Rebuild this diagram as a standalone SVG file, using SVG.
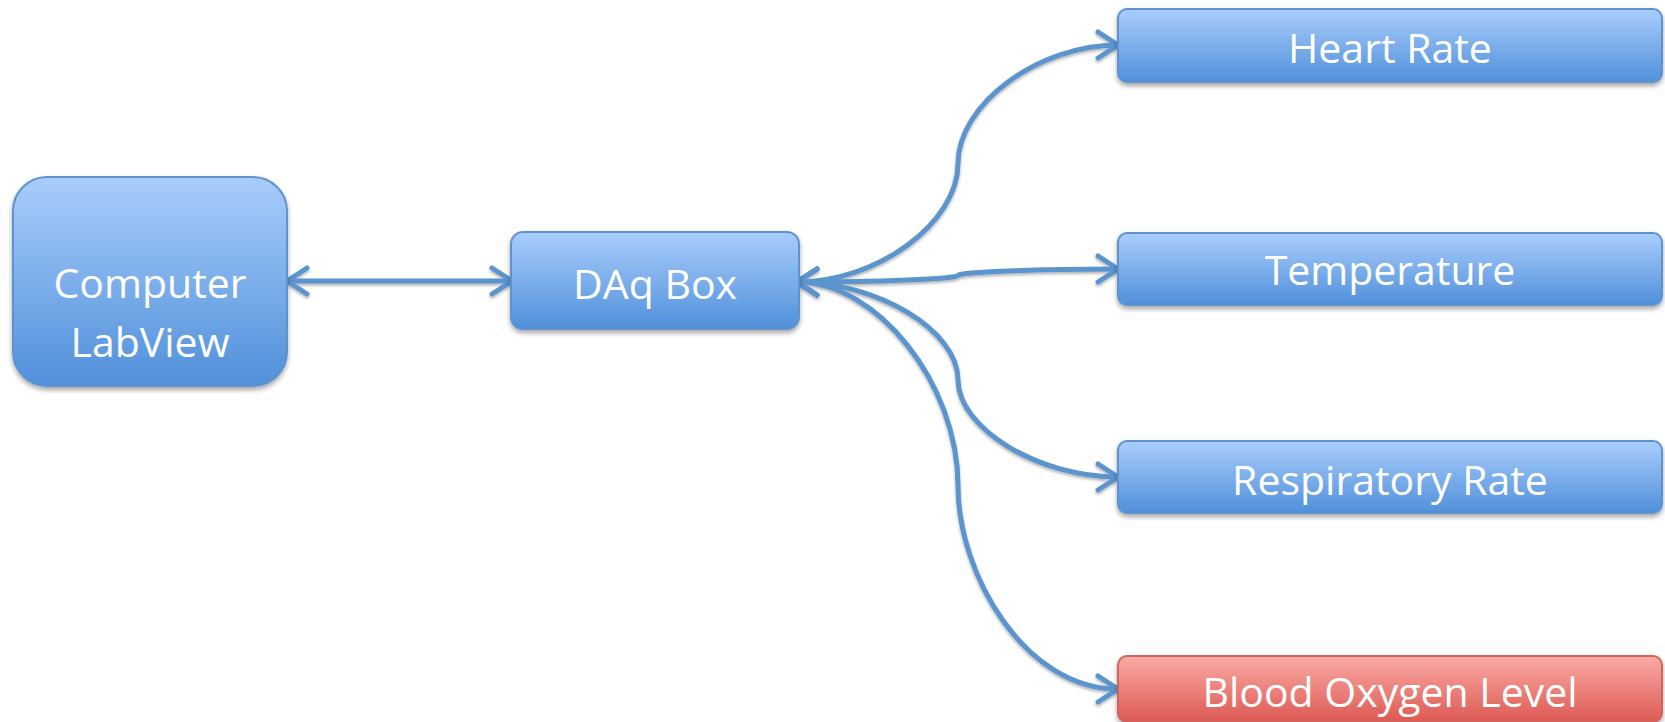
<svg xmlns="http://www.w3.org/2000/svg" width="1665" height="722" viewBox="0 0 1665 722">
<style>
.box{stroke:#5f93cf;stroke-width:2;filter:url(#sh)}
.blue{fill:url(#gb)}
.red{fill:url(#gr);stroke:#d0655e}
.lbl{font-family:"Open Sans","Liberation Sans",sans-serif;font-size:41px;fill:#ffffff;text-anchor:middle}
.con{fill:none;stroke:#5b94cd;stroke-width:5;stroke-linecap:round;marker-start:url(#ah);marker-end:url(#ah)}
</style>
<defs>
<linearGradient id="gb" x1="0" y1="0" x2="0" y2="1">
<stop offset="0" stop-color="#a9cdfc"/>
<stop offset="1" stop-color="#5090da"/>
</linearGradient>
<linearGradient id="gr" x1="0" y1="0" x2="0" y2="1">
<stop offset="0" stop-color="#fbaaa5"/>
<stop offset="1" stop-color="#dc5a53"/>
</linearGradient>
<filter id="sh" x="-10%" y="-20%" width="120%" height="150%">
<feDropShadow dx="0" dy="3" stdDeviation="2.5" flood-color="#000" flood-opacity="0.35"/>
</filter>
<filter id="lsh" filterUnits="userSpaceOnUse" x="0" y="0" width="1665" height="722">
<feDropShadow dx="0" dy="2" stdDeviation="1.5" flood-color="#000" flood-opacity="0.3"/>
</filter>
<marker id="ah" markerUnits="userSpaceOnUse" markerWidth="30" markerHeight="34" refX="24" refY="16" orient="auto-start-reverse" viewBox="0 0 30 34">
<path d="M4 3 L24 16 L4 29" fill="none" stroke="#5b94cd" stroke-width="5" stroke-linecap="round" stroke-linejoin="round"/>
</marker>
</defs>
<g id="connectors" filter="url(#lsh)">
<path class="con" d="M287 281 L512 281"/>
<path class="con" d="M797 282 C877.5 282 958 222.75 958 163.5 C958 104.25 1038 45 1118 45"/>
<path class="con" d="M797 282 C877.5 282 958 278.75 958 275.5 C958 272.25 1038 269 1118 269"/>
<path class="con" d="M797 282 C877.5 282 958 330.75 958 379.5 C958 428.25 1038 477 1118 477"/>
<path class="con" d="M797 282 C877.5 282 958 383.75 958 485.5 C958 575 1025 689 1118 689"/>
</g>
<g id="computer">
<rect class="box blue" x="13" y="177" width="274" height="209" rx="34"/>
<text class="lbl" x="150" y="298">Computer</text>
<text class="lbl" x="150" y="357">LabView</text>
</g>
<g id="daq">
<rect class="box blue" x="511" y="232" width="288" height="97" rx="12"/>
<text class="lbl" x="655" y="299">DAq Box</text>
</g>
<g id="heart">
<rect class="box blue" x="1118" y="9" width="544" height="73" rx="9"/>
<text class="lbl" x="1390" y="63">Heart Rate</text>
</g>
<g id="temperature">
<rect class="box blue" x="1118" y="233" width="544" height="72" rx="9"/>
<text class="lbl" x="1390" y="285">Temperature</text>
</g>
<g id="respiratory">
<rect class="box blue" x="1118" y="441" width="544" height="72" rx="9"/>
<text class="lbl" x="1390" y="495">Respiratory Rate</text>
</g>
<g id="blood">
<rect class="box red" x="1118" y="656" width="544" height="66" rx="9"/>
<text class="lbl" x="1390" y="707">Blood Oxygen Level</text>
</g>
</svg>
